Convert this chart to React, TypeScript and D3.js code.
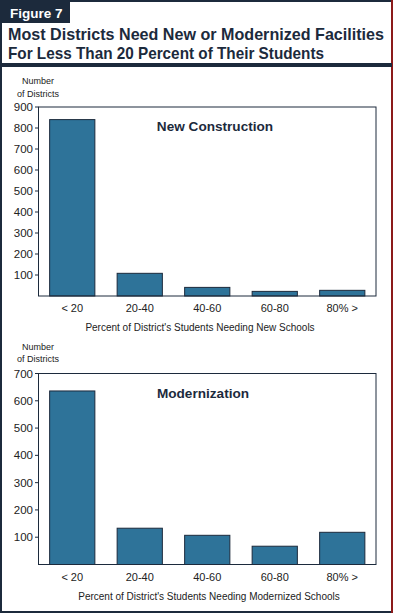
import React from 'react';
import * as d3 from 'd3';

const categories = ['< 20', '20-40', '40-60', '60-80', '80% >'];
const newConstruction = [840, 108, 41, 22, 27];
const modernization = [636, 133, 107, 67, 118];
const newTicks = [100, 200, 300, 400, 500, 600, 700, 800, 900];
const modTicks = [100, 200, 300, 400, 500, 600, 700];

const W = 394;
const H = 613;
const NAVY = '#1c2a3c';
const BAR = '#2e7399';
const FONT = '"Liberation Sans", Arial, sans-serif';

interface PanelProps {
    values: number[];
    ticks: number[];
    yMax: number;
    top: number;
    bottom: number;
    label: string;
    labelX: number;
    xTitle: string;
    xTitleX: number;
    unitY: number;
    unitGap: number;
}

const Panel: React.FC<PanelProps> = ({ values, ticks, yMax, top, bottom, label, labelX, xTitle, xTitleX, unitY, unitGap }) => {
    const left = 38.5;
    const right = 376;
    const x = d3.scaleBand<string>()
        .domain(categories)
        .range([left, right])
        .paddingInner(0.33)
        .paddingOuter(0.165);
    const y = d3.scaleLinear().domain([0, yMax]).range([bottom, top]);

    return (
        <g>
            <text x={38} y={unitY} textAnchor="middle" fontSize={9} fill="#222">Number</text>
            <text x={38} y={unitY + unitGap} textAnchor="middle" fontSize={9} fill="#222">of Districts</text>
            {values.map((v, i) => (
                <rect key={i}
                    x={x(categories[i])}
                    y={y(v)}
                    width={x.bandwidth()}
                    height={y(0) - y(v)}
                    fill={BAR}
                    stroke={NAVY}
                    strokeWidth={1} />
            ))}
            <rect x={left} y={top} width={right - left} height={bottom - top} fill="none" stroke={NAVY} strokeWidth={1} />
            {ticks.map(t => (
                <g key={t}>
                    <line x1={left - 3.5} x2={left} y1={y(t)} y2={y(t)} stroke={NAVY} strokeWidth={1} />
                    <text x={33} y={y(t) + 4} textAnchor="end" fontSize={11.5} fill="#222">{t}</text>
                </g>
            ))}
            {categories.map(c => (
                <text key={c} x={(x(c) || 0) + x.bandwidth() / 2} y={bottom + 16} textAnchor="middle" fontSize={11} fill="#222">{c}</text>
            ))}
            <text x={labelX} y={top + 24} textAnchor="middle" fontSize={13.6} fontWeight="bold" fill={NAVY}>{label}</text>
            <text x={xTitleX} y={bottom + 35} textAnchor="middle" fontSize={10} fill="#222">{xTitle}</text>
        </g>
    );
};

export default function App() {
    return (
        <svg width={W} height={H} style={{ position: 'absolute', left: 0, top: 0, background: '#fff' }} fontFamily={FONT}>
            <rect x={0} y={0} width={W} height={H} fill="#fff" />
            <line x1={0} x2={391} y1={1} y2={1} stroke={NAVY} strokeWidth={2} />
            <line x1={1} x2={1} y1={0} y2={H} stroke={NAVY} strokeWidth={2} />
            <line x1={0} x2={392} y1={612} y2={612} stroke={NAVY} strokeWidth={2} />
            <line x1={392} x2={392} y1={0} y2={H} stroke="#8b1a1a" strokeWidth={2} />
            <rect x={0} y={0} width={70} height={23} fill={NAVY} />
            <text x={10} y={18} fontSize={13.5} fontWeight="bold" fill="#fff">Figure 7</text>
            <text x={8} y={40} fontSize={16.5} fontWeight="bold" fill={NAVY}
                textLength={376} lengthAdjust="spacingAndGlyphs">Most Districts Need New or Modernized Facilities</text>
            <text x={8} y={59} fontSize={16.5} fontWeight="bold" fill={NAVY}
                textLength={316} lengthAdjust="spacingAndGlyphs">For Less Than 20 Percent of Their Students</text>
            <rect x={0} y={63} width={392} height={4} fill={NAVY} />
            <Panel values={newConstruction} ticks={newTicks} yMax={900} top={107} bottom={296}
                label="New Construction" labelX={215}
                xTitle="Percent of District's Students Needing New Schools" xTitleX={200}
                unitY={84} unitGap={13} />
            <Panel values={modernization} ticks={modTicks} yMax={700} top={373.5} bottom={564.5}
                label="Modernization" labelX={203}
                xTitle="Percent of District's Students Needing Modernized Schools" xTitleX={209}
                unitY={350} unitGap={11.5} />
        </svg>
    );
}
